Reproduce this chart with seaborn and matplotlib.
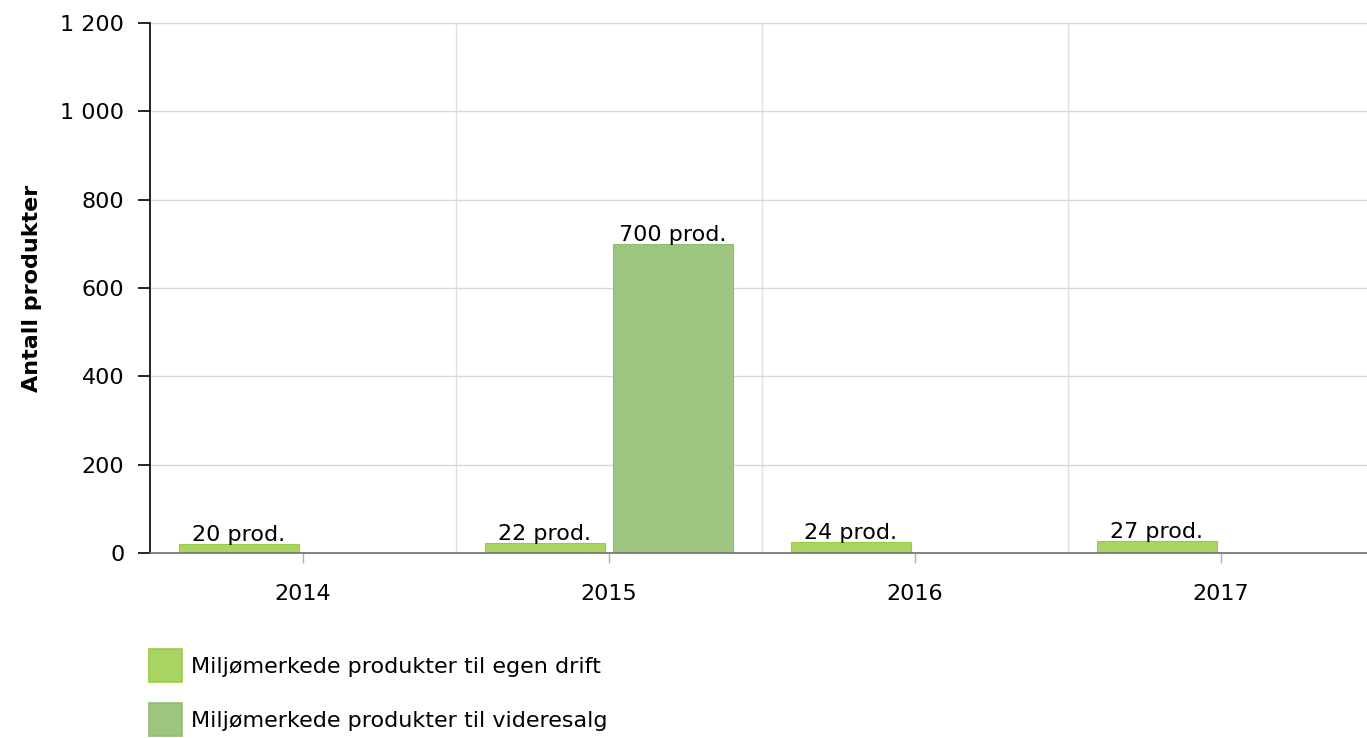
import numpy as np
import pandas as pd
import matplotlib
matplotlib.use("Agg")
import matplotlib.pyplot as plt
from matplotlib.ticker import FuncFormatter, MultipleLocator
from matplotlib.patches import Patch
import seaborn as sns

years = ["2014", "2015", "2016", "2017"]
series_names = ["Miljømerkede produkter til egen drift", "Miljømerkede produkter til videresalg"]
egen_drift = [20, 22, 24, 27]
videresalg = [np.nan, 700, np.nan, np.nan]
fill_colors = ["#a9d461", "#9dc580"]
edge_colors = ["#9bcb45", "#8fbd72"]
y_label = "Antall produkter"

df = pd.DataFrame({
    "year": years * 2,
    "series": [series_names[0]] * 4 + [series_names[1]] * 4,
    "value": egen_drift + videresalg,
})

sns.set_theme(style="white")
plt.rcParams["font.family"] = ["DejaVu Sans"]
plt.rcParams["text.color"] = "#000000"
FS = 16

fig = plt.figure(figsize=(13.67, 7.38), dpi=100)
ax = fig.add_axes([150 / 1367, 1 - 553 / 738, 1224 / 1367, 530 / 738])

sns.barplot(data=df, x="year", y="value", hue="series", hue_order=series_names,
            order=years, palette=fill_colors, width=0.837, gap=0.07,
            ax=ax, legend=False, saturation=1)

vals = [egen_drift, videresalg]
for cont, ec, v in zip(ax.containers, edge_colors, vals):
    for b in cont:
        if b is None:
            continue
        b.set_edgecolor(ec)
        b.set_linewidth(0.8)
        cx = b.get_x() + b.get_width() / 2
        cat = int(round(cx))
        val = v[cat]
        if val is None or np.isnan(val):
            continue
        ax.annotate(f"{int(val)} prod.", (cx, b.get_height()), xytext=(0, -0.5),
                    textcoords="offset points", ha="center", va="bottom",
                    fontsize=FS, color="#000000")

ax.set_xlim(-0.5, 3.5)
ax.set_ylim(0, 1200)
ax.yaxis.set_major_locator(MultipleLocator(200))
ax.yaxis.set_major_formatter(FuncFormatter(lambda v, p: f"{int(v):,}".replace(",", " ")))

ax.set_xticks(range(len(years)))
ax.set_xticks([0.5, 1.5, 2.5], minor=True)
ax.grid(axis="y", which="major", color="#d8d8d8", linewidth=1)
ax.grid(axis="x", which="minor", color="#e0e0e0", linewidth=1)
ax.grid(axis="x", which="major", visible=False)
ax.set_axisbelow(True)

for s in ["top", "right"]:
    ax.spines[s].set_visible(False)
ax.spines["left"].set_color("#000000")
ax.spines["left"].set_linewidth(1.2)
ax.spines["bottom"].set_color("#707070")
ax.spines["bottom"].set_linewidth(1.2)

ax.tick_params(axis="x", which="major", length=7, width=1, color="#b0b0b0",
               pad=15, labelsize=FS, labelcolor="#000000", bottom=True)
ax.tick_params(axis="x", which="minor", length=0)
ax.tick_params(axis="y", length=8.5, width=1.2, color="#000000", pad=10,
               labelsize=FS, labelcolor="#000000", left=True)

ax.set_xlabel("")
ax.set_ylabel(y_label, fontsize=FS, fontweight="bold", color="#000000")
ax.yaxis.set_label_coords(-108 / 1224, 0.5)

handles = [Patch(facecolor=fc, edgecolor=ec, linewidth=1.2, label=n)
           for fc, ec, n in zip(fill_colors, edge_colors, series_names)]
fig.legend(handles=handles, loc="upper left", bbox_to_anchor=(149 / 1367, 1 - 649 / 738),
           frameon=False, fontsize=FS, handlelength=1.5, handleheight=1.9,
           labelspacing=0.95, handletextpad=0.4, borderaxespad=0, borderpad=0,
           labelcolor="#000000")

fig.savefig("out.png", dpi=100)
